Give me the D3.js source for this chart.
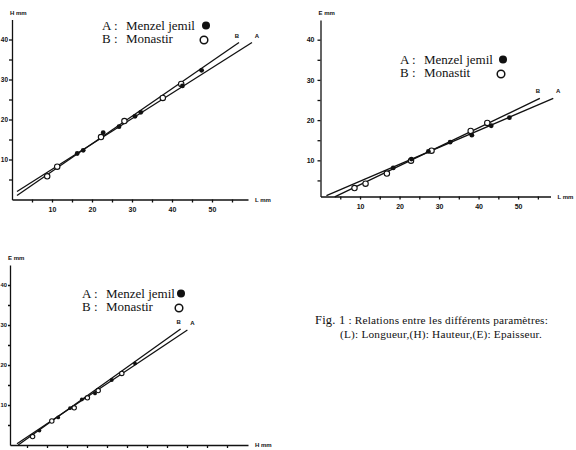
<!DOCTYPE html>
<html>
<head>
<meta charset="utf-8">
<script src="https://cdn.jsdelivr.net/npm/d3@7"></script>
<style>
body { margin: 0; background: #fff; }
svg { display: block; }
</style>
</head>
<body>
<svg id="fig" width="576" height="450"></svg>
<script>
// H = f(L)
var hlMenzel   = [[16.3,11.5],[17.8,12.3],[22.8,16.7],[26.75,18.2],[30.75,20.8],[32.2,21.8],[42.6,28.4],[47.4,32.3]];
var hlMonastir = [[8.8,5.8],[11.3,8.2],[22.25,15.6],[28.1,19.6],[37.7,25.4],[42.3,28.9]];
var hlLineA = [[1.25,2],[60,39.25]];
var hlLineB = [[1.25,1],[56.75,39.25]];

// E = f(L)
var elMenzel   = [[18.4,8.1],[23,10.3],[27.3,12.2],[32.8,14.5],[38.3,16.25],[43.2,18.6],[47.8,20.6]];
var elMonastir = [[8.6,3.1],[11.4,4.2],[16.8,6.7],[22.9,9.9],[28.1,12.4],[38,17.3],[42.2,19.3]];
var elLineA = [[1.5,1.2],[58.9,25.4]];
var elLineB = [[3.6,0.9],[55.5,25.4]];

// E = f(H)
var ehMenzel   = [[8.1,3.6],[12.8,6.9],[15.75,9.2],[18.7,11.4],[22,12.9],[26.2,16.25],[32,20.4]];
var ehMonastir = [[6.4,2.1],[11.2,6],[16.8,9.3],[20.1,11.8],[22.8,13.6],[28.7,17.9]];
var ehLineA = [[2.5,0.3],[45.1,28.75]];
var ehLineB = [[2.8,0],[43.4,29]];

var xTicks = [5,10,15,20,25,30,35,40,45,50,55];
var yTicks = [5,10,15,20,25,30,35,40];
var legendA = "Menzel jemil";
var caption1 = "Relations entre les différents paramètres:";
var caption2 = "(L): Longueur,(H): Hauteur,(E): Epaisseur.";

var ink = "#111";
var svg = d3.select("#fig");

function drawPanel(p) {
    var x = d3.scaleLinear().domain(p.xDomain).range(p.xRange);
    var y = d3.scaleLinear().domain(p.yDomain).range(p.yRange);
    var g = svg.append("g");

    var xAxisGen = d3.axisBottom(x)
                     .tickValues(xTicks.filter(function(t){ return x(t) < p.xRange[1] - 4 }))
                     .tickSize(3).tickSizeOuter(0).tickPadding(5)
                     .tickFormat(function(t){ return (p.xLabels && t % 10 === 0) ? t : "" });
    var xAxis = g.append("g")
                 .attr("transform", "translate(0," + p.yRange[0] + ")")
                 .call(xAxisGen);

    var yAxisGen = d3.axisLeft(y)
                     .tickValues(yTicks)
                     .tickSize(p.yTick).tickSizeOuter(0).tickPadding(p.yPad)
                     .tickFormat(function(t){ return t % 10 === 0 ? t : "" });
    var yAxis = g.append("g")
                 .attr("transform", "translate(" + p.xRange[0] + ",0)")
                 .call(yAxisGen);

    [xAxis, yAxis].forEach(function(a){
        a.selectAll("path, line").style("stroke", ink).style("stroke-width", 1.3);
        a.selectAll("text")
         .style("font-family", "'Liberation Sans', Arial, sans-serif")
         .style("font-weight", "bold")
         .style("font-size", "7px")
         .style("fill", ink);
    });
    yAxis.selectAll("text").style("font-size", p.yFont + "px");

    // axis names
    g.append("text")
     .attr("x", p.xRange[1] + 7)
     .attr("y", p.yRange[0] + 2)
     .style("font-family", "'Liberation Sans', Arial, sans-serif")
     .style("font-weight", "bold").style("font-size", "6px").style("fill", ink)
     .text(p.xName);
    g.append("text")
     .attr("x", p.xRange[0] - 2)
     .attr("y", p.yRange[1] - 5)
     .style("font-family", "'Liberation Sans', Arial, sans-serif")
     .style("font-weight", "bold").style("font-size", "6px").style("fill", ink)
     .text(p.yName);

    // regression lines
    var line = d3.line().x(function(d){ return x(d[0]) }).y(function(d){ return y(d[1]) });
    [[p.lineA, "A", 5], [p.lineB, "B", -2]].forEach(function(l){
        g.append("path")
         .attr("d", line(l[0]))
         .style("fill", "none").style("stroke", ink).style("stroke-width", 1.3);
        var end = l[0][1];
        g.append("text")
         .attr("x", x(end[0]) + l[2])
         .attr("y", y(end[1]) - 5)
         .attr("text-anchor", "middle")
         .style("font-family", "'Liberation Sans', Arial, sans-serif")
         .style("font-weight", "bold").style("font-size", "6px").style("fill", ink)
         .text(l[1]);
    });

    // points
    g.selectAll("circle.open")
     .data(p.monastir).enter().append("circle")
     .attr("class", "open")
     .attr("cx", function(d){ return x(d[0]) })
     .attr("cy", function(d){ return y(d[1]) })
     .attr("r", p.r + 0.3)
     .style("fill", "#fff").style("stroke", ink).style("stroke-width", 1.1);
    g.selectAll("circle.full")
     .data(p.menzel).enter().append("circle")
     .attr("class", "full")
     .attr("cx", function(d){ return x(d[0]) })
     .attr("cy", function(d){ return y(d[1]) })
     .attr("r", p.r)
     .style("fill", ink);

    // legend
    var lg = g.append("g")
              .attr("transform", "translate(" + p.legend[0] + "," + p.legend[1] + ")")
              .style("font-family", "'Liberation Serif', 'Times New Roman', serif")
              .style("font-size", "13px").style("fill", ink);
    [["A :", legendA, 0], ["B :", p.nameB, 13.5]].forEach(function(r){
        lg.append("text").attr("x", 0).attr("y", r[2] + 4.5).text(r[0]);
        lg.append("text").attr("x", 24).attr("y", r[2] + 4.5).text(r[1]);
    });
    lg.append("circle").attr("cx", p.legendDot).attr("cy", 0.5).attr("r", 4).style("fill", ink);
    lg.append("circle").attr("cx", p.legendDot - 2).attr("cy", 15).attr("r", 3.8)
      .style("fill", "none").style("stroke", ink).style("stroke-width", 1.5);
}

drawPanel({
    xDomain: [0, 59], xRange: [12, 248],
    yDomain: [0, 45], yRange: [199.5, 19.5],
    yTick: 3, yPad: 1, yFont: 6.5,
    xLabels: true, xName: "L mm", yName: "H mm",
    menzel: hlMenzel, monastir: hlMonastir, lineA: hlLineA, lineB: hlLineB,
    r: 2.4, legend: [102, 25], legendDot: 104, nameB: "Monastir"
});

drawPanel({
    xDomain: [0, 58.2], xRange: [320.5, 550.5],
    yDomain: [1, 44.9], yRange: [196.5, 20],
    yTick: 3, yPad: 3, yFont: 7,
    xLabels: true, xName: "L mm", yName: "E mm",
    menzel: elMenzel, monastir: elMonastir, lineA: elLineA, lineB: elLineB,
    r: 2.4, legend: [400, 59], legendDot: 103, nameB: "Monastit"
});

drawPanel({
    xDomain: [0.75, 60.25], xRange: [10, 248],
    yDomain: [0, 45], yRange: [445, 265],
    yTick: 2, yPad: 1, yFont: 5.8,
    xLabels: false, xName: "H mm", yName: "E mm",
    menzel: ehMenzel, monastir: ehMonastir, lineA: ehLineA, lineB: ehLineB,
    r: 1.9, legend: [82, 293], legendDot: 99, nameB: "Monastir"
});

// caption
var cap = svg.append("g")
             .style("font-family", "'Liberation Serif', 'Times New Roman', serif")
             .style("fill", ink);
var c1 = cap.append("text").attr("x", 315).attr("y", 324).style("font-size", "11.3px")
            .style("letter-spacing", "0.2px");
c1.append("tspan").style("font-size", "12.5px").text("Fig. 1");
c1.append("tspan").text(" : " + caption1);
cap.append("text").attr("x", 340).attr("y", 337.5).style("font-size", "11.3px")
   .style("letter-spacing", "0.2px").text(caption2);
</script>
</body>
</html>
